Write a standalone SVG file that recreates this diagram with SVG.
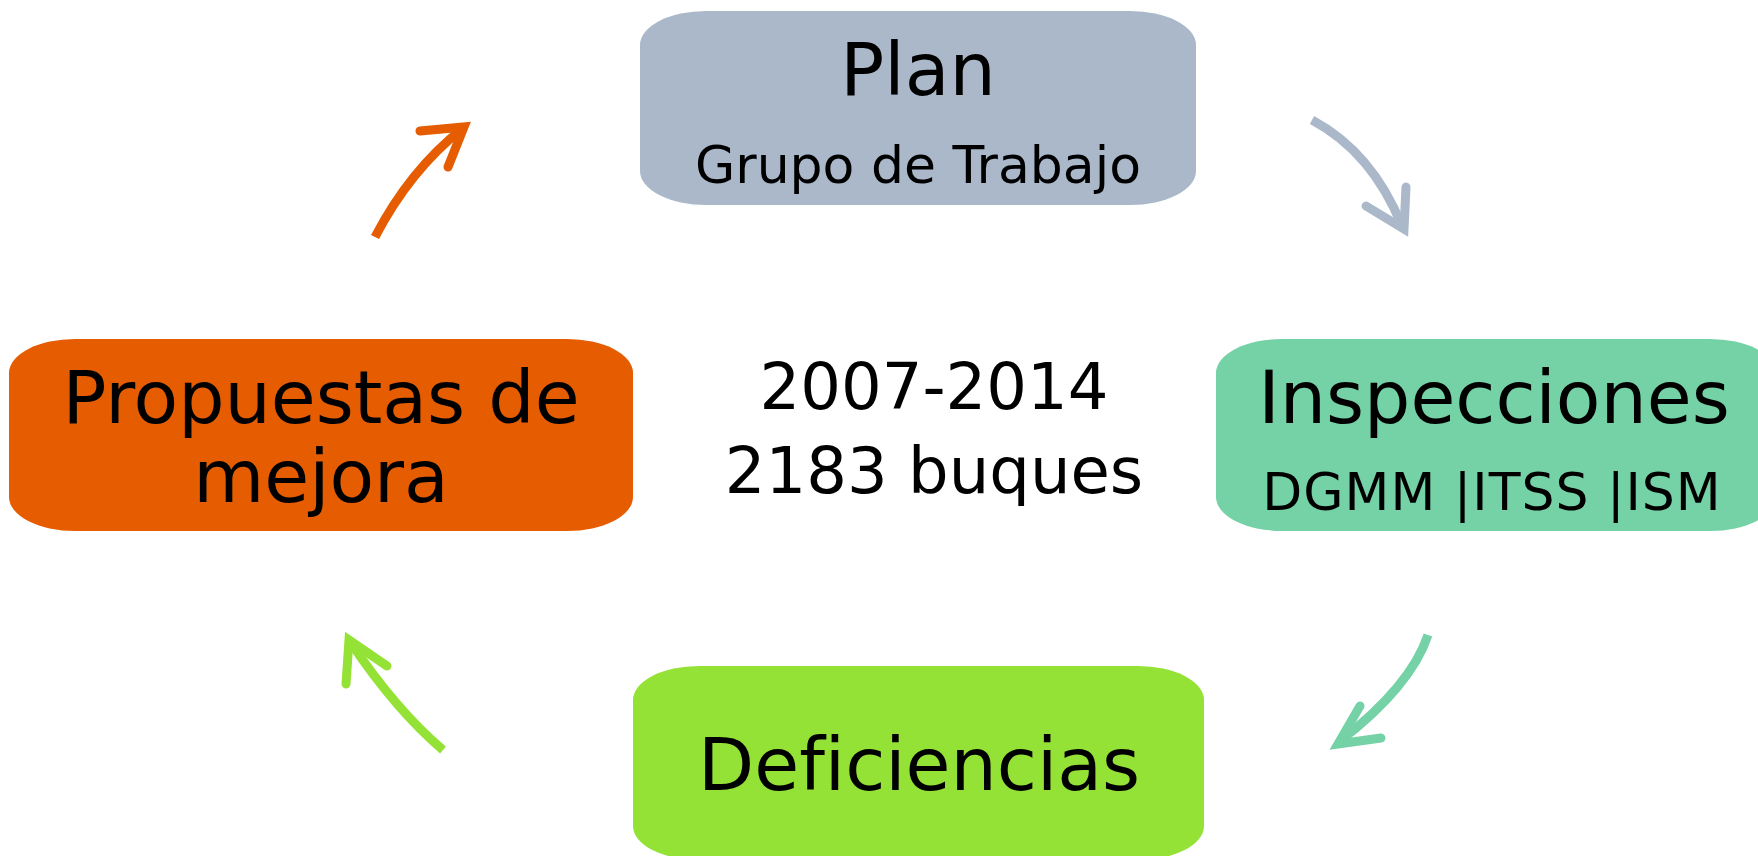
<svg xmlns="http://www.w3.org/2000/svg" width="1758" height="856" viewBox="0 0 1758 856">
<style>
text{font-family:"DejaVu Sans","Verdana",sans-serif;fill:#000;text-anchor:middle;font-variant-ligatures:none}
.big{font-size:73px}
.mid{font-size:52px}
.ctr{font-size:64px}
.arr{fill:none;stroke-width:9}
.shaft{stroke-linecap:butt}
.head{stroke-linecap:round;stroke-linejoin:miter;stroke-miterlimit:10}
</style>
<rect width="1758" height="856" fill="#fff"/>
<g id="plan">
<rect x="640" y="11" width="556" height="194" rx="66" ry="34" fill="#AAB8CA"/>
<text class="big" x="918" y="95">Plan</text>
<text class="mid" x="918" y="183">Grupo de Trabajo</text>
</g>
<g id="inspecciones">
<rect x="1216" y="339" width="560" height="192" rx="66" ry="34" fill="#75D1A6"/>
<text class="big" x="1494" y="423">Inspecciones</text>
<text class="mid" x="1492" y="510" letter-spacing="1">DGMM |ITSS |ISM</text>
</g>
<g id="propuestas">
<rect x="9" y="339" width="624" height="192" rx="66" ry="34" fill="#E65C00"/>
<text class="big" x="321" y="423">Propuestas de</text>
<text class="big" x="321" y="502">mejora</text>
</g>
<g id="deficiencias">
<rect x="633" y="666" width="571" height="194" rx="66" ry="34" fill="#94E236"/>
<text class="big" x="919" y="790">Deficiencias</text>
</g>
<g id="center">
<text class="ctr" x="934" y="409">2007-2014</text>
<text class="ctr" x="934" y="493">2183 buques</text>
</g>
<g id="connectors">
<g stroke="#AAB8CA" class="arr">
<path class="shaft" d="M1312,120 Q1372,152 1402,226"/>
<polyline class="head" points="1406,187 1404,229 1366,206"/>
</g>
<g stroke="#75D1A6" class="arr">
<path class="shaft" d="M1428,635 Q1411,686 1340,741"/>
<polyline class="head" points="1360,706 1338,744 1381,738"/>
</g>
<g stroke="#94E236" class="arr">
<path class="shaft" d="M443,750 Q396,710 351,643"/>
<polyline class="head" points="346,684 349,640 387,666"/>
</g>
<g stroke="#E65C00" class="arr">
<path class="shaft" d="M375,237 Q410,170 462,129"/>
<polyline class="head" points="420,131 464,127 448,167"/>
</g>
</g>
</svg>
